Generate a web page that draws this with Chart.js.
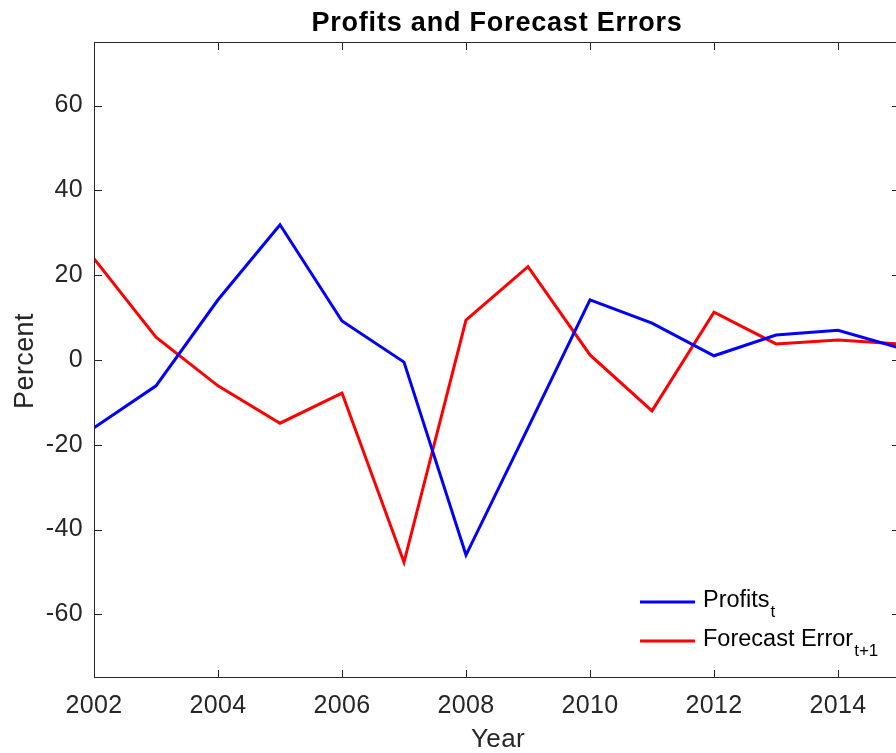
<!DOCTYPE html>
<html><head><meta charset="utf-8">
<script src="https://cdn.jsdelivr.net/npm/chart.js@4.4.1/dist/chart.umd.min.js"></script>
<style>html,body{margin:0;padding:0;overflow:hidden;background:#fff;width:896px;height:753px}canvas{display:block}</style>
</head><body>
<canvas id="c" width="910" height="753" style="width:910px;height:753px"></canvas>
<script>
const years = [2002,2003,2004,2005,2006,2007,2008,2009,2010,2011,2012,2013,2014,2015];
const profits = [-16.0,-6.1,14.2,31.9,9.2,-0.5,-46.0,-16.0,14.2,8.7,1.0,5.9,7.0,2.8];
const forecastErrors = [23.9,5.4,-6.1,-14.9,-7.8,-47.7,9.4,22.0,1.2,-12.0,11.3,3.8,4.7,3.8];
const xTicks = [2002,2004,2006,2008,2010,2012,2014];
const yTicks = [-60,-40,-20,0,20,40,60];
const titleText = 'Profits and Forecast Errors';
const xLabel = 'Year';
const yLabel = 'Percent';
const legendItems = [
  {name:'Profits', sub:'t', color:'#0000ff'},
  {name:'Forecast Error', sub:'t+1', color:'#ff0000'}
];

const FONT = '"Liberation Sans", Arial, Helvetica, sans-serif';
const AX = '#262626';

const spacing = {
  id:'spacing',
  beforeLayout(chart){ chart.ctx.letterSpacing = '0.4px'; },
  beforeDraw(chart){ chart.ctx.letterSpacing = '0.4px'; }
};

const decor = {
  id:'decor',
  afterDatasetsDraw(chart){
    const {ctx, chartArea:a, scales:{x,y}} = chart;
    ctx.save();
    ctx.strokeStyle = AX; ctx.lineWidth = 1;
    ctx.beginPath();
    ctx.rect(a.left+0.5, a.top+0.5, a.right-a.left-1, a.bottom-a.top-1);
    ctx.stroke();
    const tl = 8;
    ctx.beginPath();
    xTicks.forEach(v=>{const px=Math.round(x.getPixelForValue(v))+0.5;
      ctx.moveTo(px,a.bottom); ctx.lineTo(px,a.bottom-tl);
      ctx.moveTo(px,a.top); ctx.lineTo(px,a.top+tl);});
    yTicks.forEach(v=>{const py=Math.round(y.getPixelForValue(v))+0.5;
      ctx.moveTo(a.left,py); ctx.lineTo(a.left+tl,py);
      ctx.moveTo(a.right,py); ctx.lineTo(a.right-tl,py);});
    ctx.stroke();
    // title
    ctx.fillStyle = '#000';
    ctx.letterSpacing = '0.8px';
    ctx.font = 'bold 27px '+FONT;
    ctx.textAlign = 'center'; ctx.textBaseline = 'alphabetic';
    ctx.fillText(titleText, 497, 31);
    // axis labels
    ctx.letterSpacing = '0.4px';
    ctx.fillStyle = AX;
    ctx.font = '26px '+FONT;
    ctx.fillText(xLabel, 498, 747);
    ctx.save();
    ctx.font = '27px '+FONT;
    ctx.translate(33, 361);
    ctx.rotate(-Math.PI/2);
    ctx.fillText(yLabel, 0, 0);
    ctx.restore();
    // legend
    ctx.letterSpacing = '0px';
    const lx0 = 640, lx1 = 695, tx = 703;
    const rows = [602, 641];
    legendItems.forEach((it,i)=>{
      const ly = rows[i];
      ctx.strokeStyle = it.color; ctx.lineWidth = 3;
      ctx.beginPath(); ctx.moveTo(lx0, ly); ctx.lineTo(lx1, ly); ctx.stroke();
      ctx.fillStyle = '#000';
      ctx.textAlign = 'left';
      ctx.font = '23.5px '+FONT;
      ctx.fillText(it.name, tx, ly+5);
      const w = ctx.measureText(it.name).width;
      ctx.font = '17px '+FONT;
      ctx.fillText(it.sub, tx+w+1, ly+15);
    });
    ctx.restore();
  }
};

new Chart(document.getElementById('c'), {
  type:'line',
  data:{
    datasets:[
      {label:'Profits', data: years.map((yr,i)=>({x:yr,y:profits[i]})), borderColor:'#0000ff', borderWidth:3, pointRadius:0, tension:0, fill:false},
      {label:'Forecast Error', data: years.map((yr,i)=>({x:yr,y:forecastErrors[i]})), borderColor:'#ff0000', borderWidth:3, pointRadius:0, tension:0, fill:false}
    ]
  },
  options:{
    responsive:false, animation:false,
    layout:{padding:{top:42, right:10, left:0, bottom:0}},
    plugins:{legend:{display:false}, title:{display:false}, tooltip:{enabled:false}},
    scales:{
      x:{type:'linear', min:2002, max:2015,
        afterBuildTicks(s){ s.ticks = xTicks.map(v=>({value:v})); },
        afterFit(s){ s.height = 75; },
        grid:{display:false, drawTicks:false, tickLength:0}, border:{display:false},
        ticks:{color:AX, font:{family:FONT, size:25}, padding:13, maxRotation:0, autoSkip:false, callback:v=>String(v)}},
      y:{type:'linear', min:-75, max:75,
        afterBuildTicks(s){ s.ticks = yTicks.map(v=>({value:v})); },
        afterFit(s){ s.width = 94; },
        grid:{display:false, drawTicks:false, tickLength:0}, border:{display:false},
        ticks:{color:AX, font:{family:FONT, size:25}, padding:11, autoSkip:false, callback:v=>String(v)}}
    }
  },
  plugins:[spacing, decor]
});
</script>
</body></html>
